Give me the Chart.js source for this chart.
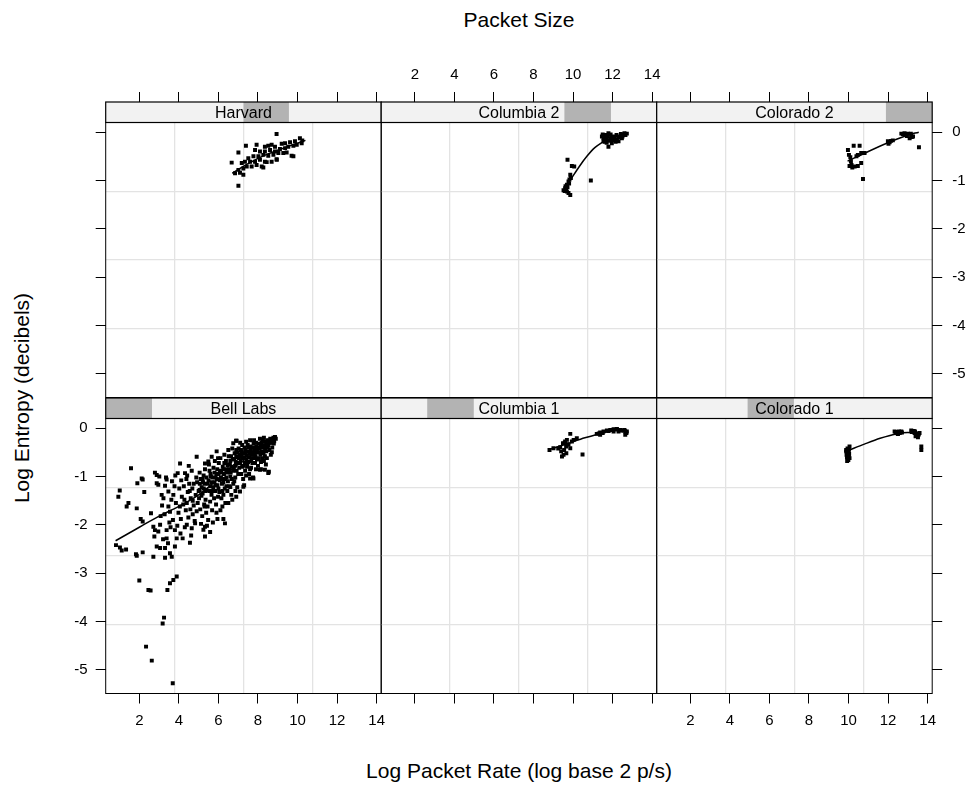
<!DOCTYPE html>
<html>
<head>
<meta charset="utf-8">
<title>Log Entropy vs Log Packet Rate</title>
<script src="https://cdn.jsdelivr.net/npm/chart.js@4.4.1/dist/chart.umd.min.js"></script>
<style>
  html, body { margin: 0; padding: 0; background: #fff; }
  #page {
    position: relative;
    width: 973px;
    height: 796px;
    overflow: hidden;
    font-family: 'Liberation Sans', Arial, sans-serif;
    color: #000;
  }
  #page canvas { position: absolute; left: 0; top: 0; }
  .axis-title {
    position: absolute;
    font-size: 21px;
    white-space: nowrap;
    transform: translate(-50%, -50%);
  }
  #ylab { transform: translate(-50%, -50%) rotate(-90deg); }
</style>
</head>
<body>
<div id="page">
  <div class="axis-title" id="toplab" style="left:519px; top:20px;">Packet Size</div>
  <div class="axis-title" id="xlab" style="left:519px; top:771px;">Log Packet Rate (log base 2 p/s)</div>
  <div class="axis-title" id="ylab" style="left:22px; top:398px;">Log Entropy (decibels)</div>
</div>
<script>
const xTicks = [2, 4, 6, 8, 10, 12, 14];
const yTicks = [-5, -4, -3, -2, -1, 0];
const xLimits = [0.3, 14.23];
const yLimits = [-5.49, 0.2];

// panels in lattice order: bottom row left to right, then top row
const panelNames = ['Bell Labs', 'Columbia 1', 'Colorado 1', 'Harvard', 'Columbia 2', 'Colorado 2'];
// packet size interval of each panel, as a share of the whole packet size range
const sizeLevels = [[0, 0.168], [0.167, 0.336], [0.33, 0.498], [0.5, 0.665], [0.665, 0.834], [0.832, 1]];

const bellLabsPoints = [
  [1.58, -0.83], [1.01, -1.29], [0.94, -1.42], [1.45, -1.55], [1.36, -1.62], [1.87, -1.66], [1.9, -1.14],
  [2.25, -1.32], [2.17, -1.06], [2.79, -0.92], [3.01, -1.0], [3.38, -1.06], [2.88, -1.14], [2.96, -1.17],
  [3.3, -1.19], [3.47, -1.31], [3.13, -1.38], [3.22, -1.45], [3.72, -1.38], [4.06, -0.73], [3.94, -0.93],
  [4.31, -0.93], [4.9, -0.59], [5.32, -0.73], [5.49, -0.69], [5.66, -0.59], [5.91, -0.48], [6.75, -0.31],
  [6.92, -0.26], [2.07, -1.88], [2.17, -1.93], [2.59, -1.76], [3.08, -1.82], [3.47, -1.62], [3.55, -1.73],
  [2.71, -2.04], [2.79, -2.11], [2.76, -2.24], [2.96, -2.14], [3.38, -2.11], [3.38, -2.28], [3.8, -2.11],
  [3.89, -2.28], [4.19, -2.28], [4.56, -2.37], [4.4, -2.0], [4.65, -2.07], [4.82, -1.97], [5.24, -2.1],
  [5.32, -2.04], [5.32, -2.24], [0.82, -2.42], [1.02, -2.47], [1.11, -2.53], [1.33, -2.51], [1.83, -2.61],
  [2.17, -2.57], [2.71, -2.66], [2.88, -2.45], [3.05, -2.48], [3.3, -2.48], [3.55, -2.59], [3.64, -2.66],
  [3.3, -2.68], [3.8, -2.45], [1.87, -2.64], [2.0, -3.15], [2.46, -3.35], [2.57, -3.36], [3.42, -3.35],
  [3.55, -3.21], [3.72, -3.14], [3.89, -3.07], [3.25, -3.92], [3.18, -4.04], [2.34, -4.52], [2.63, -4.81],
  [3.69, -5.28], [2.88, -0.97], [2.12, -1.04],
  [4.12, -1.08], [4.25, -1.2], [4.38, -1.05], [4.45, -1.32], [4.52, -1.15], [4.6, -1.45], [4.68, -1.25],
  [4.75, -1.6], [4.85, -1.38], [4.92, -1.12], [4.15, -1.42], [4.22, -1.58], [4.35, -1.7], [4.48, -1.85],
  [4.58, -1.68], [4.7, -1.78], [4.8, -1.92], [4.95, -1.55], [4.05, -1.62], [4.1, -1.88], [4.3, -2.05],
  [4.62, -2.22], [4.28, -1.48], [4.88, -1.02], [4.42, -0.98], [4.65, -0.88], [4.02, -1.25], [3.98, -1.75],
  [3.85, -1.55], [3.78, -1.2], [3.65, -1.1], [3.62, -1.48], [3.7, -1.9], [3.52, -1.95], [3.45, -2.38],
  [3.28, -1.78], [3.15, -1.6], [3.05, -2.0], [3.2, -2.3], [3.58, -2.05], [3.92, -2.02], [4.08, -2.18],
  [3.35, -1.02], [3.82, -0.98], [4.5, -0.78],
  [5.05, -0.92], [5.1, -1.05], [5.15, -1.22], [5.2, -1.35], [5.25, -0.98], [5.3, -1.15], [5.35, -1.48],
  [5.4, -1.28], [5.45, -1.62], [5.5, -1.08], [5.55, -0.88], [5.6, -1.2], [5.65, -1.38], [5.7, -1.02],
  [5.75, -0.82], [5.8, -1.12], [5.85, -1.3], [5.9, -0.95], [5.95, -1.18], [5.02, -1.45], [5.08, -1.68],
  [5.18, -1.82], [5.28, -1.58], [5.38, -1.75], [5.48, -1.9], [5.58, -1.52], [5.68, -1.7], [5.78, -1.45],
  [5.88, -1.58], [5.98, -1.42], [5.12, -1.98], [5.42, -2.02], [5.72, -1.95], [5.52, -0.75], [5.82, -0.68],
  [5.62, -1.0], [5.32, -0.85], [5.92, -1.05], [5.22, -1.12], [5.05, -1.28], [5.58, -2.15], [5.95, -1.88],
  [6.02, -0.72], [6.08, -0.88], [6.12, -1.02], [6.18, -1.15], [6.22, -0.8], [6.28, -0.95], [6.32, -1.25],
  [6.38, -0.68], [6.42, -0.85], [6.48, -1.1], [6.52, -0.58], [6.58, -0.75], [6.62, -0.92], [6.68, -1.05],
  [6.72, -0.65], [6.78, -0.82], [6.82, -0.52], [6.88, -0.7], [6.92, -0.88], [6.98, -0.6], [6.05, -1.32],
  [6.15, -1.45], [6.25, -1.38], [6.35, -1.55], [6.45, -1.3], [6.55, -1.2], [6.65, -1.38], [6.75, -1.15],
  [6.85, -1.02], [6.95, -1.22], [6.1, -0.62], [6.3, -0.55], [6.5, -0.45], [6.7, -0.42], [6.2, -1.62],
  [6.4, -1.02], [6.6, -0.68], [6.9, -0.45], [6.45, -0.92], [6.25, -1.12], [6.33, -1.97], [6.25, -1.88],
  [6.5, -1.55], [6.9, -1.42], [6.89, -0.26],
  [7.02, -0.42], [7.08, -0.55], [7.12, -0.68], [7.18, -0.48], [7.22, -0.62], [7.28, -0.78], [7.32, -0.4],
  [7.38, -0.52], [7.42, -0.65], [7.48, -0.35], [7.52, -0.48], [7.58, -0.6], [7.62, -0.38], [7.68, -0.5],
  [7.72, -0.72], [7.78, -0.32], [7.82, -0.45], [7.88, -0.58], [7.92, -0.38], [7.98, -0.5], [7.05, -0.82],
  [7.15, -0.95], [7.25, -1.05], [7.35, -0.88], [7.45, -0.8], [7.55, -0.95], [7.65, -0.82], [7.75, -1.02],
  [7.85, -0.72], [7.95, -0.65], [7.1, -0.3], [7.4, -0.28], [7.6, -0.25], [7.3, -1.18], [7.7, -0.62],
  [7.5, -0.7], [7.2, -0.35], [7.9, -0.85], [7.26, -1.21], [7.09, -1.31], [7.6, -1.04], [7.77, -1.04],
  [8.02, -0.32], [8.08, -0.42], [8.12, -0.55], [8.18, -0.3], [8.22, -0.4], [8.28, -0.52], [8.32, -0.28],
  [8.38, -0.38], [8.42, -0.48], [8.48, -0.25], [8.52, -0.35], [8.58, -0.45], [8.62, -0.22], [8.68, -0.3],
  [8.72, -0.4], [8.78, -0.2], [8.82, -0.27], [8.86, -0.18], [8.05, -0.62], [8.15, -0.7], [8.25, -0.62],
  [8.35, -0.58], [8.45, -0.62], [8.55, -0.9], [8.15, -0.85], [8.4, -0.75], [8.65, -0.55], [8.1, -0.22],
  [8.3, -0.2], [8.7, -0.5], [8.52, -0.93], [8.35, -0.86], [8.1, -0.86],
  [8.75, -0.24], [8.6, -0.3], [8.5, -0.4], [8.44, -0.33], [8.36, -0.45], [8.26, -0.36], [8.2, -0.48],
  [8.14, -0.35], [8.06, -0.5], [7.96, -0.42], [7.9, -0.3], [7.84, -0.52], [7.76, -0.4], [7.7, -0.55],
  [7.64, -0.45], [7.56, -0.52], [7.5, -0.4], [7.44, -0.57], [7.36, -0.45], [7.3, -0.6], [7.24, -0.52],
  [7.16, -0.58], [7.1, -0.72], [7.04, -0.62], [6.96, -0.72], [6.9, -0.58], [6.84, -0.78], [6.8, -0.64],
  [6.74, -0.88], [6.66, -0.8], [6.6, -1.0], [6.54, -0.85], [6.46, -0.76], [6.4, -0.9], [6.34, -1.05],
  [6.26, -0.85], [6.2, -1.05], [6.14, -0.92], [6.06, -1.08], [6.0, -0.95], [5.94, -0.85], [5.86, -1.02],
  [5.8, -0.92], [5.74, -1.22], [5.66, -1.12], [5.6, -0.95], [5.54, -1.3], [5.46, -1.15], [5.4, -1.02],
  [5.34, -1.3], [5.26, -1.25], [5.2, -1.05], [5.14, -1.4], [5.06, -1.15], [5.0, -1.3], [7.8, -0.62],
  [7.66, -0.68], [7.46, -0.72], [7.34, -0.72], [7.2, -0.8], [7.0, -0.95], [6.8, -1.1], [6.6, -1.22],
  [6.4, -1.2], [6.2, -1.3], [6.0, -1.25], [5.85, -1.18], [5.7, -1.3], [8.9, -0.22], [8.8, -0.32],
  [8.7, -0.28], [8.56, -0.26], [8.4, -0.28], [8.24, -0.25], [8.0, -0.4], [7.8, -0.25], [6.98, -0.5],
  [7.14, -0.45], [6.64, -0.58], [6.3, -0.72], [5.98, -0.62], [8.3, -0.68], [8.0, -0.78], [7.6, -0.85],
  [7.4, -0.98], [6.86, -1.3], [6.7, -1.48], [6.1, -1.7], [5.9, -1.75], [5.3, -1.62], [4.7, -1.5],
  [4.9, -1.72], [4.4, -1.55], [4.55, -1.3], [4.75, -1.15]
];
const bellLabsFit = [[0.8, -2.33], [2, -2.05], [3, -1.82], [4, -1.62], [5, -1.38], [6, -1.05], [7, -0.75], [8, -0.45], [8.9, -0.22]];

const columbia1Points = [
  [8.81, -0.45], [9.01, -0.415], [9.35, -0.394], [9.49, -0.311], [9.6, -0.277], [9.69, -0.242], [9.86, -0.118],
  [9.77, -0.346], [9.86, -0.415], [9.44, -0.587], [9.52, -0.553], [9.66, -0.518], [10.48, -0.546], [9.94, -0.277],
  [10.03, -0.242], [10.19, -0.208], [11.2, -0.118], [11.37, -0.09], [11.54, -0.07], [11.71, -0.049], [11.88, -0.035],
  [12.05, -0.02], [12.22, -0.015], [12.38, -0.035], [12.55, -0.049], [12.64, -0.07], [12.72, -0.07], [12.64, -0.139],
  [12.05, -0.07], [12.3, -0.07], [11.37, -0.139], [9.55, -0.45], [9.25, -0.42], [11.5, -0.1], [11.8, -0.06],
  [12.0, -0.04], [12.15, -0.03], [12.45, -0.05], [12.6, -0.04], [12.7, -0.1], [11.3, -0.11], [9.65, -0.38],
  [9.7, -0.33], [9.58, -0.3], [9.4, -0.48]
];
const columbia1Fit = [[8.81, -0.44], [9.5, -0.35], [10.0, -0.28], [10.6, -0.2], [11.2, -0.13], [11.8, -0.07], [12.3, -0.04], [12.72, -0.04]];

const colorado1Points = [
  [9.88, -0.45], [9.97, -0.52], [10.02, -0.58], [9.92, -0.6], [10.05, -0.62], [9.99, -0.66], [9.88, -0.48],
  [10.05, -0.38], [9.95, -0.42], [10.0, -0.5], [12.33, -0.07], [12.45, -0.09], [12.58, -0.1], [12.67, -0.07],
  [12.5, -0.12], [12.4, -0.1], [12.62, -0.09], [13.17, -0.05], [13.26, -0.07], [13.34, -0.1], [13.42, -0.14],
  [13.51, -0.19], [13.59, -0.1], [13.39, -0.17], [13.3, -0.06], [13.68, -0.38], [13.68, -0.45], [9.9, -0.55],
  [9.95, -0.47], [10.02, -0.44], [9.93, -0.68], [10.03, -0.53], [12.38, -0.08], [12.55, -0.07], [12.7, -0.09],
  [12.48, -0.11], [13.2, -0.08], [13.36, -0.07], [13.45, -0.11], [13.48, -0.16], [13.55, -0.13]
];
const colorado1Fit = [[10.0, -0.46], [10.8, -0.33], [11.6, -0.21], [12.4, -0.12], [13.0, -0.09], [13.4, -0.1], [13.6, -0.14]];

const harvardPoints = [
  [8.94, -0.04], [7.01, -0.42], [6.67, -0.63], [7.39, -0.28], [7.01, -1.11], [7.93, -0.26], [8.35, -0.3],
  [8.52, -0.28], [8.69, -0.26], [8.86, -0.3], [9.2, -0.24], [9.37, -0.23], [9.62, -0.21], [9.87, -0.19],
  [10.12, -0.125], [10.24, -0.17], [7.85, -0.37], [8.1, -0.4], [8.35, -0.4], [8.61, -0.37], [8.86, -0.4],
  [9.11, -0.35], [9.37, -0.33], [9.53, -0.3], [9.79, -0.28], [9.96, -0.26], [10.21, -0.23], [7.51, -0.54],
  [7.77, -0.5], [8.02, -0.5], [8.27, -0.47], [8.52, -0.49], [8.78, -0.47], [9.03, -0.43], [9.28, -0.43],
  [9.45, -0.42], [9.7, -0.49], [7.18, -0.64], [7.34, -0.61], [7.6, -0.61], [7.85, -0.61], [8.1, -0.57],
  [8.35, -0.61], [8.69, -0.61], [8.94, -0.56], [9.79, -0.5], [7.01, -0.78], [7.26, -0.75], [7.43, -0.71],
  [7.68, -0.71], [7.93, -0.68], [8.19, -0.71], [8.44, -0.62], [6.84, -0.85], [7.09, -0.84], [7.26, -0.88],
  [8.27, -0.73], [8.95, -0.57]
];
const harvardFit = [[6.7, -0.85], [7.5, -0.65], [8.5, -0.45], [9.5, -0.3], [10.4, -0.17]];

const columbia2Points = [
  [11.46, -0.09], [11.63, -0.06], [11.79, -0.02], [11.88, -0.125], [11.71, -0.16], [11.54, -0.19], [11.96, -0.23],
  [12.05, -0.09], [12.22, -0.16], [12.3, -0.19], [12.38, -0.09], [12.55, -0.06], [12.72, -0.03], [12.47, -0.125],
  [11.54, -0.125], [11.79, -0.3], [11.6, -0.2], [11.9, -0.05], [12.6, -0.02], [12.15, -0.2], [9.72, -0.57],
  [9.94, -0.7], [10.06, -0.71], [9.86, -0.88], [9.89, -0.95], [9.77, -1.02], [9.69, -1.09], [9.6, -1.16],
  [9.52, -1.2], [9.69, -1.23], [9.77, -1.26], [9.86, -1.3], [10.9, -1.0], [9.62, -1.12], [9.8, -1.06],
  [11.5, -0.05], [11.65, -0.12], [11.75, -0.08], [11.85, -0.18], [11.95, -0.1], [12.1, -0.13], [12.2, -0.06],
  [12.28, -0.1], [12.42, -0.04], [12.5, -0.09], [12.65, -0.06], [11.7, -0.22], [11.58, -0.15], [12.0, -0.16],
  [9.65, -1.18], [9.58, -1.22], [9.72, -1.14], [9.82, -0.98]
];
const columbia2Fit = [[9.9, -0.97], [10.3, -0.72], [10.7, -0.5], [11.1, -0.32], [11.55, -0.19]];

const colorado2Points = [
  [9.97, -0.37], [10.26, -0.28], [10.56, -0.28], [10.02, -0.47], [10.09, -0.52], [10.47, -0.47], [10.64, -0.43],
  [10.81, -0.43], [10.05, -0.7], [10.19, -0.73], [10.31, -0.71], [10.47, -0.7], [10.64, -0.64], [10.73, -0.97],
  [11.99, -0.19], [12.08, -0.21], [12.24, -0.17], [12.67, -0.03], [12.83, -0.02], [13.0, -0.03], [13.17, -0.06],
  [13.26, -0.09], [13.09, -0.125], [13.56, -0.31], [12.9, -0.05], [10.12, -0.6], [12.75, -0.04], [12.95, -0.08],
  [13.15, -0.03], [13.2, -0.1], [12.15, -0.18], [12.02, -0.24], [10.15, -0.68], [10.4, -0.5]
];
const colorado2Fit = [[9.95, -0.6], [11.0, -0.4], [12.0, -0.22], [13.0, -0.06], [13.55, 0.0]];

const panelPoints = [bellLabsPoints, columbia1Points, colorado1Points, harvardPoints, columbia2Points, colorado2Points];
const panelFits = [bellLabsFit, columbia1Fit, colorado1Fit, harvardFit, columbia2Fit, colorado2Fit];

// page geometry
const PAGE_W = 973;
const PAGE_H = 796;
const colEdges = [105.7, 381.2, 656.7, 932.2];
const rowBox = {
  top: { top: 122.5, bottom: 397.5 },
  bottom: { top: 418.5, bottom: 693.5 },
};
const STRIP_H = 20.5;
const tickFont = { family: "'Liberation Sans', Arial, sans-serif", size: 15 };

const toXY = (pairs) => pairs.map(([x, y]) => ({ x, y }));

const quarterTicks = (scale) => {
  const step = (scale.max - scale.min) / 4;
  scale.ticks = [1, 2, 3].map((k) => ({ value: scale.min + k * step }));
};

const panelFrame = {
  id: 'panelFrame',
  afterDatasetsDraw(chart) {
    const { ctx, chartArea: a } = chart;
    ctx.save();
    ctx.strokeStyle = '#000';
    ctx.lineWidth = 1;
    ctx.strokeRect(a.left, a.top, a.right - a.left, a.bottom - a.top);
    ctx.restore();
  },
  afterDraw(chart, args, opts) {
    const { ctx, chartArea: a } = chart;
    const w = a.right - a.left;
    const top = a.top - STRIP_H;
    ctx.save();
    ctx.fillStyle = '#f2f2f2';
    ctx.fillRect(a.left, top, w, STRIP_H);
    ctx.fillStyle = '#b3b3b3';
    ctx.fillRect(a.left + opts.level[0] * w, top, (opts.level[1] - opts.level[0]) * w, STRIP_H);
    ctx.fillStyle = '#000';
    ctx.font = "16px 'Liberation Sans', Arial, sans-serif";
    ctx.textAlign = 'center';
    ctx.textBaseline = 'middle';
    ctx.fillText(opts.name, a.left + w / 2, top + STRIP_H / 2 + 1);
    ctx.strokeStyle = '#000';
    ctx.lineWidth = 1.2;
    ctx.strokeRect(a.left, top, w, STRIP_H);
    ctx.restore();
  },
};

function buildPanel(index) {
  const col = index % 3;
  const isTop = index >= 3;
  const box = isTop ? rowBox.top : rowBox.bottom;
  const left = colEdges[col];
  const right = colEdges[col + 1];

  const showY = col !== 1;
  const xSize = isTop ? 60 : 40;
  const ySize = showY ? 40 : 0;
  const padding = {
    left: col === 0 ? left - ySize : left,
    right: col === 2 ? PAGE_W - right - ySize : PAGE_W - right,
    top: isTop ? box.top - xSize : box.top,
    bottom: isTop ? PAGE_H - box.bottom : PAGE_H - box.bottom - xSize,
  };

  const showXLabels = isTop ? col === 1 : col !== 1;
  const showYLabels = col === 0 ? !isTop : isTop;

  const canvas = document.createElement('canvas');
  canvas.width = PAGE_W;
  canvas.height = PAGE_H;
  document.getElementById('page').appendChild(canvas);

  return new Chart(canvas, {
    type: 'scatter',
    data: {
      datasets: [
        {
          label: 'smooth',
          data: toXY(panelFits[index]),
          showLine: true,
          borderColor: '#000',
          borderWidth: 1.5,
          pointRadius: 0,
          cubicInterpolationMode: 'monotone',
          fill: false,
        },
        {
          label: panelNames[index],
          data: toXY(panelPoints[index]),
          pointStyle: 'rect',
          pointRadius: 2.8,
          borderWidth: 0,
          backgroundColor: '#000',
        },
      ],
    },
    plugins: [panelFrame],
    options: {
      responsive: false,
      animation: false,
      devicePixelRatio: 1,
      layout: { padding },
      scales: {
        x: {
          type: 'linear',
          position: isTop ? 'top' : 'bottom',
          min: xLimits[0],
          max: xLimits[1],
          afterBuildTicks: (s) => { s.ticks = xTicks.map((v) => ({ value: v })); },
          afterFit: (s) => { s.height = xSize; },
          grid: { drawOnChartArea: false, tickLength: isTop ? 30.5 : 10, tickColor: '#000', tickWidth: 1 },
          border: { display: false },
          ticks: {
            display: showXLabels,
            color: '#000',
            font: tickFont,
            padding: 8,
            maxRotation: 0,
            autoSkip: false,
            callback: (v) => String(v),
          },
        },
        y: {
          type: 'linear',
          display: showY,
          position: col === 2 ? 'right' : 'left',
          min: yLimits[0],
          max: yLimits[1],
          afterBuildTicks: (s) => { s.ticks = yTicks.map((v) => ({ value: v })); },
          afterFit: (s) => { s.width = ySize; },
          grid: { drawOnChartArea: false, tickLength: 10, tickColor: '#000', tickWidth: 1 },
          border: { display: false },
          ticks: {
            display: showYLabels,
            color: '#000',
            font: tickFont,
            padding: col === 2 ? 10 : 8,
            autoSkip: false,
            callback: (v) => String(v),
          },
        },
        gx: {
          type: 'linear',
          axis: 'x',
          position: 'bottom',
          min: xLimits[0],
          max: xLimits[1],
          afterBuildTicks: quarterTicks,
          afterFit: (s) => { s.height = 0; },
          grid: { color: '#e3e3e3', lineWidth: 1.3, drawTicks: false },
          border: { display: false },
          ticks: { display: false },
        },
        gy: {
          type: 'linear',
          axis: 'y',
          position: 'left',
          min: yLimits[0],
          max: yLimits[1],
          afterBuildTicks: quarterTicks,
          afterFit: (s) => { s.width = 0; },
          grid: { color: '#e3e3e3', lineWidth: 1.3, drawTicks: false },
          border: { display: false },
          ticks: { display: false },
        },
      },
      plugins: {
        legend: { display: false },
        tooltip: { enabled: false },
        panelFrame: { name: panelNames[index], level: sizeLevels[index] },
      },
    },
  });
}

panelNames.forEach((_, i) => buildPanel(i));
</script>
</body>
</html>
